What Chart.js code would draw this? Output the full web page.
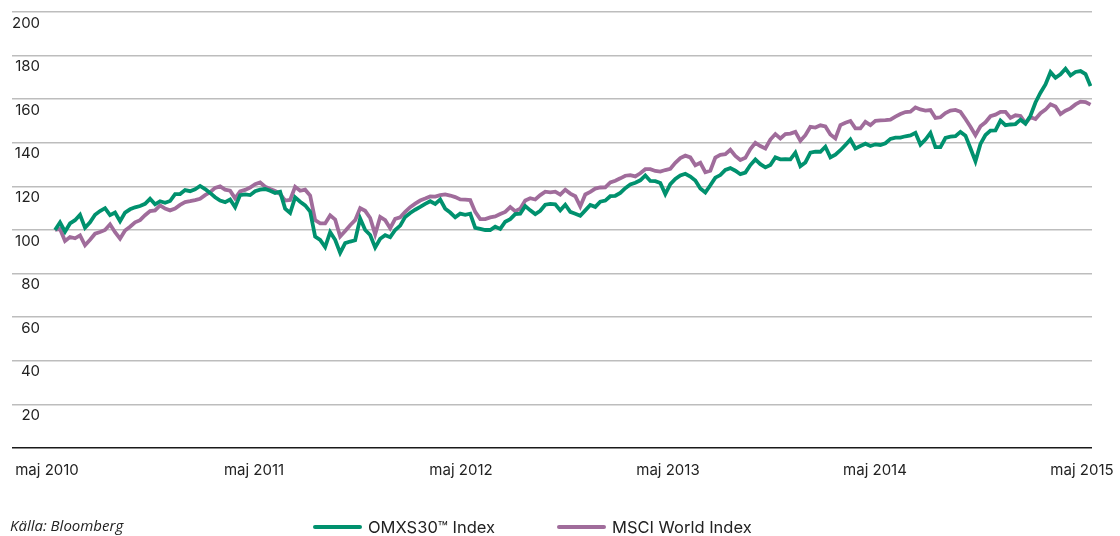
<!DOCTYPE html>
<html lang="sv">
<head>
<meta charset="utf-8">
<title>OMXS30 och MSCI World Index</title>
<script src="https://cdn.jsdelivr.net/npm/chart.js@4.4.1/dist/chart.umd.min.js"></script>
<style>
  html, body { margin: 0; padding: 0; background: #fff; }
  #wrap { position: relative; width: 1120px; height: 536px; font-family: Inter, sans-serif; color: #222; }
  #chart { position: absolute; left: 0; top: 0; }
  .foot { position: absolute; height: 20px; line-height: 20px; white-space: nowrap; }
  .src { left: 10px; top: 515px; font-family: "Open Sans", sans-serif; font-style: italic; font-size: 15px; }
  .key { top: 517px; font-size: 16.5px; }
  .swatch { position: absolute; top: 525px; width: 49px; height: 4px; border-radius: 2px; }
</style>
</head>
<body>
<div id="wrap">
  <canvas id="chart" width="1120" height="536"></canvas>
  <div class="foot src">Källa: Bloomberg</div>
  <div class="swatch" id="swOmx" style="left:313px"></div>
  <div class="foot key" style="left:368px">OMXS30™ Index</div>
  <div class="swatch" id="swMsci" style="left:557px"></div>
  <div class="foot key" style="left:612px">MSCI World Index</div>
</div>
<script>
// ───────── data ─────────

// mätpunkter, i månader efter maj 2010
const firstMonth = 0.464;
const stepMonth = 0.29;

const yearTicks = [0, 12, 24, 36, 48, 60];
const yearLabels = ['maj 2010', 'maj 2011', 'maj 2012', 'maj 2013', 'maj 2014', 'maj 2015'];
const yTicks = [0, 20, 40, 60, 80, 100, 120, 140, 160, 180, 200];

const omxValues = [
    100, 103.5, 99.2, 103, 104.5, 107, 101, 103.5, 107, 108.7,
    110, 106.8, 108, 104, 108, 109.5, 110.4, 111, 112, 114.3,
    111.8, 113.2, 112.5, 113.3, 116.5, 116.5, 118.3, 117.8, 118.7, 120.2,
    118.8, 117, 115, 113.5, 112.8, 114, 110.5, 116, 116.3, 116,
    117.8, 118.5, 118.8, 118, 117, 117.5, 109.8, 107.8, 115, 113,
    111.3, 108.5, 97, 95.5, 92.2, 99, 95.5, 89.5, 94, 94.7,
    95.3, 105.3, 100, 97.7, 92, 96, 97.6, 96.7, 100, 102,
    106, 107.8, 109.3, 110.6, 112, 113.2, 112, 114, 109.8, 108,
    105.8, 107.5, 107, 107.5, 101, 100.5, 100, 100, 101.5, 100.5,
    103.8, 105, 107.3, 107.5, 111, 109, 107.3, 108.8, 111.6, 112,
    111.8, 109, 111.6, 108.3, 107.5, 106.5, 109, 111.5, 110.6, 113,
    113.5, 115.5, 115.7, 117, 119.2, 120.9, 121.7, 122.8, 125, 122.5,
    122.4, 121.6, 116.5, 121, 123.4, 125, 125.8, 124.5, 122.7, 119,
    117.2, 120.5, 124, 125.2, 127.6, 128.4, 127.2, 125.6, 126.3, 129.8,
    132.4, 130.2, 128.7, 129.8, 133.3, 132.4, 132.5, 132.4, 135.5, 129.3,
    131, 135.5, 135.9, 135.9, 138.2, 133.3, 134.6, 136.6, 139, 141.5,
    137.4, 138.5, 139.6, 138.5, 139.3, 139, 139.8, 141.8, 142.4, 142.4,
    143, 143.4, 144.6, 139.2, 141.5, 144.5, 138, 138, 142.2, 142.8,
    143, 145, 143.3, 137.5, 131.5, 139.5, 143.6, 145.6, 145.7, 150.2,
    148.1, 148.4, 148.6, 150.6, 148.8, 152.4, 158.5, 163, 166.8, 172.4,
    169.8, 171.4, 174, 170.9, 172.5, 172.9, 171.5, 166
];

const msciValues = [
    100, 100.5, 95, 96.8, 96.2, 97.5, 93, 95.5, 98.3, 99.1,
    100, 102.6, 99, 96, 99.8, 101.5, 103.5, 104.5, 106.8, 108.7,
    109, 111.3, 109.8, 109, 109.8, 111.5, 112.8, 113.2, 113.7, 114.3,
    116, 117.3, 119.3, 120, 118.5, 118, 114.5, 117.7, 118.4, 119.5,
    121, 121.8, 119.9, 118.8, 117.9, 116.5, 113.5, 113.8, 119.8, 118,
    118.5, 115.8, 104.5, 103, 103, 106.7, 104.8, 97, 99.5, 102.2,
    104.5, 110, 108.8, 105.5, 98, 106, 104.5, 100.8, 105.1, 105.8,
    108.3, 110.5, 112.1, 113.5, 114.4, 115.4, 115.3, 116, 116.3, 115.8,
    115.1, 114, 113.9, 113.7, 108.3, 105, 105, 105.8, 106.2, 107.3,
    108.3, 110.5, 108.6, 109.8, 113.5, 114.6, 114, 116, 117.6, 117.3,
    117.6, 116.2, 118.5, 116.7, 115.5, 110.8, 116.3, 117.5, 119, 119.5,
    119.6, 121.8, 122.6, 123.7, 124.9, 125.2, 124.6, 126, 127.9, 127.9,
    127.1, 126.8, 127.5, 128.1, 130.8, 133, 134.1, 133.3, 129.7, 130.8,
    126.5, 127.2, 133.2, 134.5, 134.8, 136.8, 134, 132.1, 133.1, 137.1,
    140, 138.5, 137.4, 141.5, 144, 142, 144, 144.2, 145, 140.9,
    143.5, 147.3, 147, 148, 147.5, 143.8, 142, 148.1, 149.2, 150,
    146.6, 146.6, 149.6, 148.1, 150.1, 150.3, 150.4, 150.6, 152, 153.2,
    154.1, 154.3, 156.2, 155.3, 154.8, 155, 151.4, 151.7, 153.6, 154.8,
    155.1, 154.2, 150.9, 147.4, 143.5, 147.6, 149.4, 152.2, 152.9, 154.2,
    154.2, 151.4, 152.6, 152.3, 149, 151.7, 150.9, 153.6, 155.2, 157.7,
    156.7, 153.2, 154.7, 155.8, 157.6, 158.9, 158.7, 157.5
];

const omxColor = '#00916e';
const msciColor = '#a06c9b';

// ───────── chart ─────────

const toPoints = vals => vals.map((v, i) => ({ x: firstMonth + i * stepMonth, y: v }));
const tickFont = { family: 'Inter', size: 15 };

document.getElementById('swOmx').style.background = omxColor;
document.getElementById('swMsci').style.background = msciColor;

new Chart(document.getElementById('chart'), {
    type: 'line',
    data: {
        datasets: [
            { label: 'OMXS30™ Index', data: toPoints(omxValues), borderColor: omxColor },
            { label: 'MSCI World Index', data: toPoints(msciValues), borderColor: msciColor }
        ]
    },
    options: {
        responsive: false,
        animation: false,
        layout: { padding: { left: 12, right: 28, top: 12, bottom: 44 } },
        plugins: { legend: { display: false }, tooltip: { enabled: false } },
        elements: {
            point: { radius: 0 },
            line: { borderWidth: 3.8, tension: 0, fill: false }
        },
        scales: {
            x: {
                type: 'linear',
                min: -2.03,
                max: 60.58,
                grid: { display: false, drawTicks: false },
                border: { display: false },
                afterBuildTicks: s => { s.ticks = yearTicks.map(v => ({ value: v })); },
                afterFit: s => { s.paddingLeft = 0; s.paddingRight = 0; },
                ticks: {
                    padding: 13, maxRotation: 0, autoSkip: false,
                    color: '#222', font: tickFont,
                    callback: v => yearLabels[yearTicks.indexOf(v)]
                }
            },
            y: {
                min: 0,
                max: 200,
                afterBuildTicks: s => { s.ticks = yTicks.map(v => ({ value: v })); },
                afterFit: s => { s.paddingTop = 0; s.paddingBottom = 0; },
                grid: {
                    drawTicks: false,
                    lineWidth: 1.5,
                    color: c => c.tick && c.tick.value === 0 ? '#1a1a1a' : '#bdbdbd'
                },
                border: { display: false },
                ticks: {
                    mirror: true, crossAlign: 'far', padding: 0, labelOffset: 11,
                    color: '#222', font: tickFont,
                    callback: v => v === 0 ? '' : v
                }
            }
        }
    }
});
</script>
</body>
</html>
